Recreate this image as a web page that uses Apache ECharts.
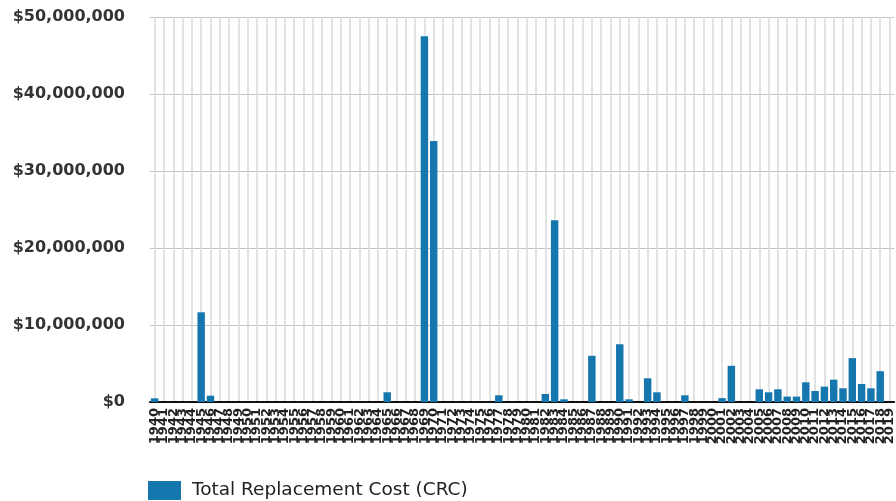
<!DOCTYPE html>
<html>
<head>
<meta charset="utf-8">
<script src="https://cdn.jsdelivr.net/npm/echarts@6/dist/echarts.min.js"></script>
<style>
  html, body { margin: 0; padding: 0; background: #fff; }
  #chart { width: 896px; height: 501px; }
</style>
</head>
<body>
<div id="chart"></div>
<script>
// years shown on the category axis, one bar slot per year
const years = [];
for (let y = 1940; y <= 2019; y++) years.push(String(y));

// replacement cost per year, zero where no bar
const costByYear = {
  1940: 480000, 1945: 11650000, 1946: 820000, 1965: 1260000,
  1969: 47500000, 1970: 33900000, 1977: 870000, 1982: 1040000,
  1983: 23600000, 1984: 350000, 1987: 6000000, 1990: 7500000,
  1991: 350000, 1993: 3080000, 1994: 1260000, 1997: 870000,
  2001: 500000, 2002: 4700000, 2005: 1650000, 2006: 1260000,
  2007: 1650000, 2008: 700000, 2009: 700000, 2010: 2560000,
  2011: 1430000, 2012: 2000000, 2013: 2900000, 2014: 1780000,
  2015: 5700000, 2016: 2340000, 2017: 1780000, 2018: 4000000
};
const costs = years.map((y) => costByYear[y] || 0);

const seriesName = "Total Replacement Cost (CRC)";
const yTicks = { min: 0, max: 50000000, interval: 10000000 };

const chart = echarts.init(document.getElementById("chart"));
chart.setOption({
  animation: false,
  grid: { left: 150, right: 0, top: 17, bottom: 99 },
  legend: {
    data: [seriesName],
    left: 148,
    top: 481,
    padding: 0,
    icon: "rect",
    itemWidth: 33,
    itemHeight: 19,
    textStyle: { fontFamily: "DejaVu Sans", fontSize: 18.5, color: "#222", padding: [0, 0, 0, 6] }
  },
  xAxis: {
    type: "category",
    data: years,
    boundaryGap: true,
    axisLine: { lineStyle: { color: "#111", width: 2 } },
    axisTick: { alignWithLabel: true, length: 5, lineStyle: { color: "#111", width: 1.5 } },
    axisLabel: {
      interval: 0,
      rotate: 90,
      margin: 6,
      fontFamily: "DejaVu Sans",
      fontWeight: "bold",
      fontSize: 13,
      color: "#222"
    },
    // vertical lines run through the middle of each year slot
    splitLine: { show: true, alignWithLabel: true, interval: 0, lineStyle: { color: "#dadada", width: 1.5 } }
  },
  yAxis: {
    type: "value",
    min: yTicks.min,
    max: yTicks.max,
    interval: yTicks.interval,
    axisLine: { show: false },
    axisTick: { show: false },
    axisLabel: {
      margin: 25,
      fontFamily: "DejaVu Sans",
      fontWeight: "bold",
      fontSize: 16,
      color: "#333",
      formatter: (v) => "$" + v.toLocaleString("en-US")
    },
    splitLine: { lineStyle: { color: "#c4c4c4", width: 1 } }
  },
  series: [{
    name: seriesName,
    type: "bar",
    data: costs,
    barWidth: "80%",
    itemStyle: { color: "#1677ae" }
  }]
});
</script>
</body>
</html>
